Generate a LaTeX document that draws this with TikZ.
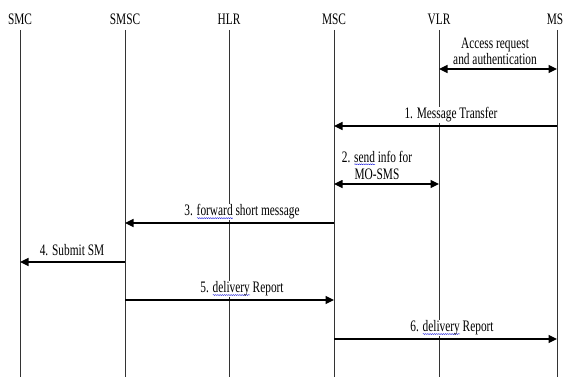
\documentclass[tikz,border=0pt]{standalone}
\usepackage{fontspec}
\setmainfont[FakeStretch=0.71]{Liberation Serif}
\usetikzlibrary{arrows.meta,decorations.pathmorphing}
\newsavebox\spbox
\newlength\splen
\newcommand\spellerr[1]{\sbox\spbox{#1}\setlength\splen{\wd\spbox}\rlap{\tikz[baseline=0pt]\draw[blue!85!black, line width=0.35pt, decorate, decoration={snake,amplitude=0.5pt,segment length=2.2pt}] (0pt,-2.2pt) -- (\splen,-2.2pt);}\usebox\spbox}
\begin{document}
\begin{tikzpicture}[x=1pt,y=-1pt,
  every node/.style={font=\fontsize{16}{16}\selectfont},
  head/.style={inner sep=0pt},
  life/.style={draw=black!80, line width=0.9pt},
  msg/.style={draw=black, line width=1.2pt, -{Triangle[length=8.5pt,width=8pt]}},
  bimsg/.style={draw=black, line width=1.2pt, {Triangle[length=8.5pt,width=8pt]}-{Triangle[length=8.5pt,width=8pt]}},
  lbl/.style={fill=white, inner sep=1pt, align=center}]
\useasboundingbox (0,0) rectangle (577,377);
% lifeline heads
\node[head] (SMC)  at (20,19)  {SMC};
\node[head] (SMSC) at (125,19) {SMSC};
\node[head] (HLR)  at (229,19) {HLR};
\node[head] (MSC)  at (334,19) {MSC};
\node[head] (VLR)  at (439,19) {VLR};
\node[head] (MS)   at (555,19) {MS};
% lifeline ends
\coordinate (SMCt) at (20,30);  \coordinate (SMCb) at (20,377);
\coordinate (SMSCt) at (125,30); \coordinate (SMSCb) at (125,377);
\coordinate (HLRt) at (229,30); \coordinate (HLRb) at (229,377);
\coordinate (MSCt) at (334,30); \coordinate (MSCb) at (334,377);
\coordinate (VLRt) at (439,30); \coordinate (VLRb) at (439,377);
\coordinate (MSt) at (557,30);  \coordinate (MSb) at (557,377);
\foreach \n in {SMC,SMSC,HLR,MSC,VLR,MS} \draw[life] (\n t) -- (\n b);
% message end points
\coordinate (a1) at (439,69);  \coordinate (a2) at (557,69);
\coordinate (m1s) at (557,126); \coordinate (m1e) at (334,126);
\coordinate (m2s) at (334,184); \coordinate (m2e) at (439,184);
\coordinate (m3s) at (334,223); \coordinate (m3e) at (125,223);
\coordinate (m4s) at (125,262); \coordinate (m4e) at (20,262);
\coordinate (m5s) at (125,300); \coordinate (m5e) at (334,300);
\coordinate (m6s) at (334,339); \coordinate (m6e) at (557,339);
% messages
\draw[bimsg] (a1) -- (a2);
\draw[msg] (m1s) -- (m1e);
\draw[bimsg] (m2s) -- (m2e);
\draw[msg] (m3s) -- (m3e);
\draw[msg] (m4s) -- (m4e);
\draw[msg] (m5s) -- (m5e);
\draw[msg] (m6s) -- (m6e);
% labels
\node[lbl] (la) at (495,51) {Access request\\and authentication};
\node[lbl] (l1) at (451,115) {1. Message Transfer};
\node[lbl] (l2) at (377,165) {2. \spellerr{send} info for\\[1pt]MO-SMS};
\node[lbl] (l3) at (242,212) {3. \spellerr{forward} short message};
\node[lbl] (l4) at (72,250) {4. Submit SM};
\node[lbl] (l5) at (242,289) {5. \spellerr{delivery} Report};
\node[lbl] (l6) at (452,328) {6. \spellerr{delivery} Report};
\end{tikzpicture}
\end{document}
